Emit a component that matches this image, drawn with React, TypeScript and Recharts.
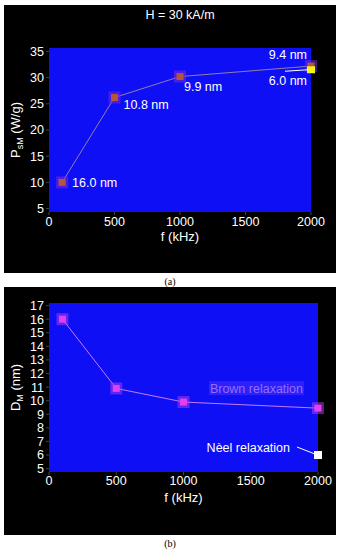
import React from "react";
import { LineChart, Line, XAxis, YAxis, CartesianGrid, LabelList } from "recharts";

// frequency of the field (kHz)
const freq = [100, 500, 1000, 2000];
// (a) specific power loss, Brown particles
const powerBrown = [10, 26.2, 30.2, 32.2];
const sizeLabels = ["16.0 nm", "10.8 nm", "9.9 nm", "9.4 nm"];
// (a) Neel particle at 2000 kHz
const neelFreq = [2000];
const powerNeel = [31.5];
const neelSizeLabel = ["6.0 nm"];
// (b) mean diameter
const sizeBrown = [16, 10.9, 9.9, 9.45];
const sizeNeel = [6.0];

const xTicks = [0, 500, 1000, 1500, 2000];
const yTicksA = [5, 10, 15, 20, 25, 30, 35];
const yTicksB = [5, 6, 7, 8, 9, 10, 11, 12, 13, 14, 15, 16, 17];

const dataA = freq.map((f, i) => ({ f, p: powerBrown[i], label: sizeLabels[i] }));
const dataNeelA = neelFreq.map((f, i) => ({ f, p: powerNeel[i], label: neelSizeLabel[i] }));
const dataB = freq.map((f, i) => ({ f, d: sizeBrown[i] }));
const dataNeelB = neelFreq.map((f, i) => ({ f, d: sizeNeel[i] }));

const FONT = "'Liberation Sans', Arial, sans-serif";
const BLUE = "#0f0ff6";
const tickStyle = { fill: "#ffffff", fontSize: 12.5, fontFamily: FONT };

// label placement relative to each point (dx, dy, anchor)
const labelPos: [number, number, "start" | "end"][] = [
  [10, 0, "start"],
  [9, 7, "start"],
  [4, 10, "start"],
  [-4, -11, "end"],
];

function YTitle({ viewBox, main, sub, rest }: any) {
  const cx = viewBox.x + 11;
  const cy = viewBox.y + viewBox.height / 2;
  return (
    <text x={cx} y={cy} transform={`rotate(-90 ${cx} ${cy})`} textAnchor="middle" dy="0.35em"
      fill="#fff" fontSize={13} fontFamily={FONT}>
      {main}
      <tspan fontSize={9} dy="3">{sub}</tspan>
      <tspan dy="-3">{rest}</tspan>
    </text>
  );
}

function XTitle({ viewBox, off }: any) {
  return (
    <text x={viewBox.x + viewBox.width / 2} y={viewBox.y + off} textAnchor="middle" dy="0.35em"
      fill="#fff" fontSize={13} fontFamily={FONT}>f (kHz)</text>
  );
}

const dotA = (p: any) => (
  <g key={`a${p.index}`}>
    <rect x={p.cx - 6} y={p.cy - 6} width={12} height={12} fill="#7a2ad8" opacity={0.55} />
    <rect x={p.cx - 3.5} y={p.cy - 3.5} width={7} height={7} fill="#b4563a" />
  </g>
);

const dotYellow = (p: any) => (
  <rect key={`y${p.index}`} x={p.cx - 4} y={p.cy - 3.5} width={8} height={7} fill="#f4f41c" />
);

const dotB = (p: any) => (
  <g key={`b${p.index}`}>
    <rect x={p.cx - 6} y={p.cy - 6} width={12} height={12} fill="#b040e8" opacity={0.5} />
    <rect x={p.cx - 3.5} y={p.cy - 3.5} width={7} height={7} fill="#e23ef2" />
  </g>
);

const dotWhite = (p: any) => (
  <rect key={`w${p.index}`} x={p.cx - 4} y={p.cy - 4} width={8} height={8} fill="#ffffff" />
);

const sizeLabel = (p: any) => {
  const [dx, dy, anchor] = labelPos[p.index];
  return (
    <text key={`l${p.index}`} x={p.x + dx} y={p.y + dy} dy="0.35em" textAnchor={anchor}
      fill="#fff" fontSize={12.5} fontFamily={FONT}>{p.value}</text>
  );
};

const neelLabelA = (p: any) => (
  <g key={`n${p.index}`}>
    <line x1={p.x - 26} y1={p.y + 1.5} x2={p.x - 3} y2={p.y} stroke="#fff" strokeWidth={1} />
    <text x={p.x - 4} y={p.y + 11} dy="0.35em" textAnchor="end" fill="#fff" fontSize={12.5} fontFamily={FONT}>
      {p.value}
    </text>
  </g>
);

const brownLabel = (p: any) =>
  p.index === freq.length - 1 ? (
    <g key="brown">
      <rect x={p.x - 109} y={p.y - 27} width={95} height={14} fill="#2a22f8" />
      <text x={p.x - 15} y={p.y - 20} dy="0.35em" textAnchor="end" fill="#9b6cff" fontSize={12.5} fontFamily={FONT}>
        Brown relaxation
      </text>
    </g>
  ) : null;

const neelLabelB = (p: any) => (
  <g key="neel">
    <line x1={p.x - 21} y1={p.y - 8} x2={p.x - 3} y2={p.y - 1} stroke="#fff" strokeWidth={1} />
    <text x={p.x - 28} y={p.y - 7} dy="0.35em" textAnchor="end" fill="#fff" fontSize={12.5} fontFamily={FONT}>
      Nèel relaxation
    </text>
  </g>
);

export default function App() {
  return (
    <div style={{ position: "absolute", left: 0, top: 0, width: 340, height: 550, background: "#fff" }}>
      {/* panel (a) */}
      <div style={{ position: "absolute", left: 4, top: 5, width: 332, height: 268, background: "#000" }}>
        <div style={{
          position: "absolute", left: 0, width: 352, top: 3, textAlign: "center",
          color: "#fff", fontSize: 12.5, fontFamily: FONT
        }}>H = 30 kA/m</div>
        <LineChart width={332} height={268} margin={{ top: 43, right: 25, bottom: 31, left: 0 }}>
          <CartesianGrid fill={BLUE} horizontal={false} vertical={false} />
          <XAxis type="number" dataKey="f" domain={[0, 2000]} ticks={xTicks} tick={tickStyle} interval={0}
            axisLine={false} tickLine={{ stroke: "#444" }} tickSize={3} tickMargin={2.5}
            label={<XTitle off={24} />} />
          <YAxis type="number" domain={[4.35, 35.65]} ticks={yTicksA} tick={tickStyle} width={45} interval={0}
            axisLine={false} tickLine={{ stroke: "#444" }} tickSize={3} tickMargin={2}
            label={<YTitle main="P" sub="sM" rest=" (W/g)" />} />
          <Line data={dataA} dataKey="p" stroke="#8f7fb0" strokeWidth={1} dot={dotA} isAnimationActive={false}>
            <LabelList dataKey="label" content={sizeLabel} />
          </Line>
          <Line data={dataNeelA} dataKey="p" stroke="none" dot={dotYellow} isAnimationActive={false}>
            <LabelList dataKey="label" content={neelLabelA} />
          </Line>
        </LineChart>
      </div>
      <div style={{ position: "absolute", left: 0, width: 340, top: 276, textAlign: "center", fontFamily: "'Liberation Serif', serif", fontSize: 10, color: "#000" }}>(a)</div>

      {/* panel (b) */}
      <div style={{ position: "absolute", left: 4, top: 287, width: 332, height: 248, background: "#000" }}>
        <LineChart width={332} height={248} margin={{ top: 16, right: 18, bottom: 33, left: 0 }}>
          <CartesianGrid fill={BLUE} horizontal={false} vertical={false} />
          <XAxis type="number" dataKey="f" domain={[0, 2000]} ticks={xTicks} tick={tickStyle} interval={0}
            axisLine={false} tickLine={{ stroke: "#444" }} tickSize={3} tickMargin={1.5}
            label={<XTitle off={25} />} />
          <YAxis type="number" domain={[4.75, 17.19]} ticks={yTicksB} tick={tickStyle} width={45} interval={0}
            axisLine={false} tickLine={{ stroke: "#444" }} tickSize={3} tickMargin={2}
            label={<YTitle main="D" sub="M" rest=" (nm)" />} />
          <Line data={dataB} dataKey="d" stroke="#c27cff" strokeWidth={1} dot={dotB} isAnimationActive={false}>
            <LabelList dataKey="d" content={brownLabel} />
          </Line>
          <Line data={dataNeelB} dataKey="d" stroke="none" dot={dotWhite} isAnimationActive={false}>
            <LabelList dataKey="d" content={neelLabelB} />
          </Line>
        </LineChart>
      </div>
      <div style={{ position: "absolute", left: 0, width: 340, top: 538, textAlign: "center", fontFamily: "'Liberation Serif', serif", fontSize: 10, color: "#000" }}>(b)</div>
    </div>
  );
}
